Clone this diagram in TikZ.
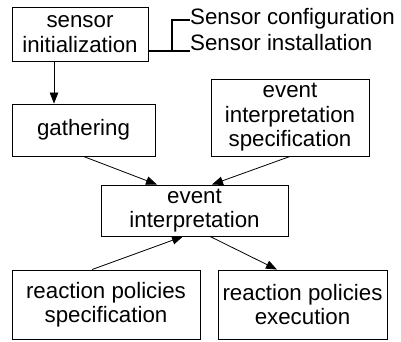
\documentclass[tikz,border=0pt]{standalone}
\usepackage{fontspec}
\setmainfont{Liberation Sans}
\usetikzlibrary{arrows.meta,calc}
\newcommand{\diagfont}{\fontsize{22.3}{24.5}\selectfont}
\begin{document}
\begin{tikzpicture}[x=1pt,y=1pt,
  box/.style={draw,line width=0.9pt,align=center,inner sep=0pt,font=\diagfont},
  flow/.style={line width=0.8pt,-{Triangle[length=11pt,width=8.5pt]}},
  bracket/.style={line width=1.8pt},
  sublabel/.style={inner sep=0pt,anchor=base west,font=\diagfont}]
\useasboundingbox (0,0) rectangle (401,-341);

\node[box,minimum width=136pt,minimum height=54pt] (si) at (80,-34) {sensor\\initialization};
\node[box,minimum width=143pt,minimum height=52pt] (ga) at (83.5,-130) {gathering};
\node[box,minimum width=158pt,minimum height=77pt] (eis) at (290,-117.5) {event\\interpretation\\specification};
\node[box,minimum width=187pt,minimum height=51pt] (ei) at (194.5,-210.5) {event\\interpretation};
\node[box,minimum width=188pt,minimum height=69pt] (rps) at (106,-304.5) {reaction policies\\specification};
\node[box,minimum width=169pt,minimum height=69pt] (rpe) at (302.5,-304.5) {reaction policies\\execution};

\node[sublabel] (cfg) at (190,-24) {Sensor configuration};
\node[sublabel] (ins) at (190,-50) {Sensor installation};

% bracket joining the sensor box to its two sub-steps
\coordinate (j) at (172,-51);
\coordinate (jt) at (172,-20);
\draw[bracket] ([yshift=-17pt]si.east) -- (j -| ins.west);
\draw[bracket] (j) -- (jt) -- (jt -| cfg.west);

\draw[flow] ([xshift=-26pt]si.south) -- ([xshift=-29.5pt]ga.north);
\draw[flow] (ga.south) -- ([xshift=-37.5pt]ei.north);
\draw[flow] (eis.south) -- ([xshift=17.5pt]ei.north);
\draw[flow] ([xshift=-14pt]rps.north) -- ([xshift=-11.5pt]ei.south);
\draw[flow] ([xshift=15.5pt]ei.south) -- ([xshift=-25.5pt]rpe.north);
\end{tikzpicture}
\end{document}
